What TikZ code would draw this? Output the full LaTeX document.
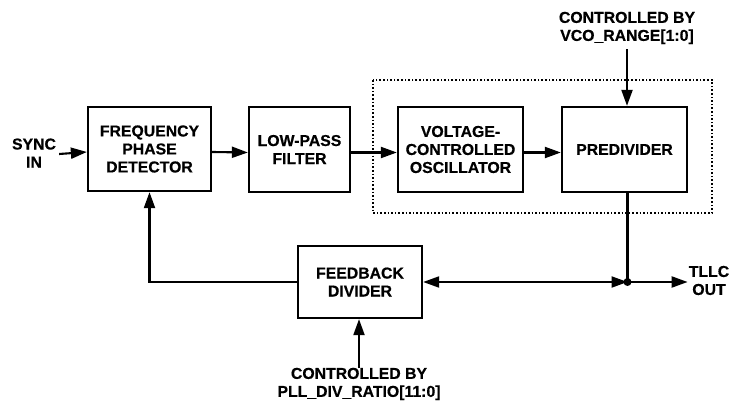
\documentclass[tikz,border=0pt]{standalone}
\usepackage{fontspec}
\setmainfont{Liberation Sans}[BoldFeatures={FakeBold=0.6}]
\usetikzlibrary{arrows.meta}
\begin{document}
\begin{tikzpicture}[x=1pt,y=-1pt,
  font=\fontsize{15.8}{18}\selectfont\bfseries,
  block/.style={draw,line width=2.3pt,rectangle,align=center,inner sep=0pt},
  lbl/.style={align=center,inner sep=3pt},
  wire/.style={line width=2.1pt},
  arr/.style={wire,-{Triangle[length=16pt,width=11pt]}},
  darr/.style={wire,{Triangle[length=16pt,width=11pt]}-{Triangle[length=16pt,width=11pt]}}]
\useasboundingbox (0,0) rectangle (730,403);

% PLL blocks
\node[block,minimum width=123pt,minimum height=84pt] (fpd) at (149.5,149) {FREQUENCY\\PHASE\\DETECTOR};
\node[block,minimum width=101pt,minimum height=85pt] (lpf) at (299.5,149.5) {LOW-PASS\\FILTER};
\node[block,minimum width=125pt,minimum height=85pt] (vco) at (460.5,149.5) {VOLTAGE-\\CONTROLLED\\OSCILLATOR};
\node[block,minimum width=125pt,minimum height=85pt] (pred) at (624.5,149.5) {PREDIVIDER};
\node[block,minimum width=124pt,minimum height=72pt] (fb) at (360,282) {FEEDBACK\\DIVIDER};

% dotted enclosure around the VCO and predivider
\draw[line width=1.6pt,dotted] (373,80) rectangle (712,213);

% external labels
\node[lbl] (sync) at (34,153) {SYNC\\IN};
\node[lbl] (ctlvco) at (627,28) {CONTROLLED BY\\VCO\_RANGE[1:0]};
\node[lbl] (ctlpll) at (359,384) {CONTROLLED BY\\PLL\_DIV\_RATIO[11:0]};
\node[lbl,inner sep=1pt] (tllc) at (709,280.5) {TLLC\\OUT};

% forward path
\draw[arr] ([yshift=-1pt]sync.east) -- ([yshift=-3pt]fpd.west);
\draw[arr] ([yshift=-3pt]fpd.east) -- ([yshift=-3pt]lpf.west);
\draw[arr] ([yshift=-3pt]lpf.east) -- ([yshift=-3pt]vco.west);
\draw[arr] ([yshift=-3pt]vco.east) -- ([yshift=-3pt]pred.west);
\draw[arr] ([yshift=-2pt]ctlvco.south) -- (ctlvco.south |- pred.north);

% output and feedback path
\coordinate (j) at (627.5,282);
\draw[wire] (pred.south -| j) -- (j);
\draw[arr] (j) -- (j -| tllc.west);
\draw[darr] (fb.east) -- (j);
\draw[arr] (fb.west) -| (fpd.south);
\draw[arr] ([yshift=-3pt]ctlpll.north) -- (ctlpll.north |- fb.south);
\fill (j) circle (4pt);
\end{tikzpicture}
\end{document}
